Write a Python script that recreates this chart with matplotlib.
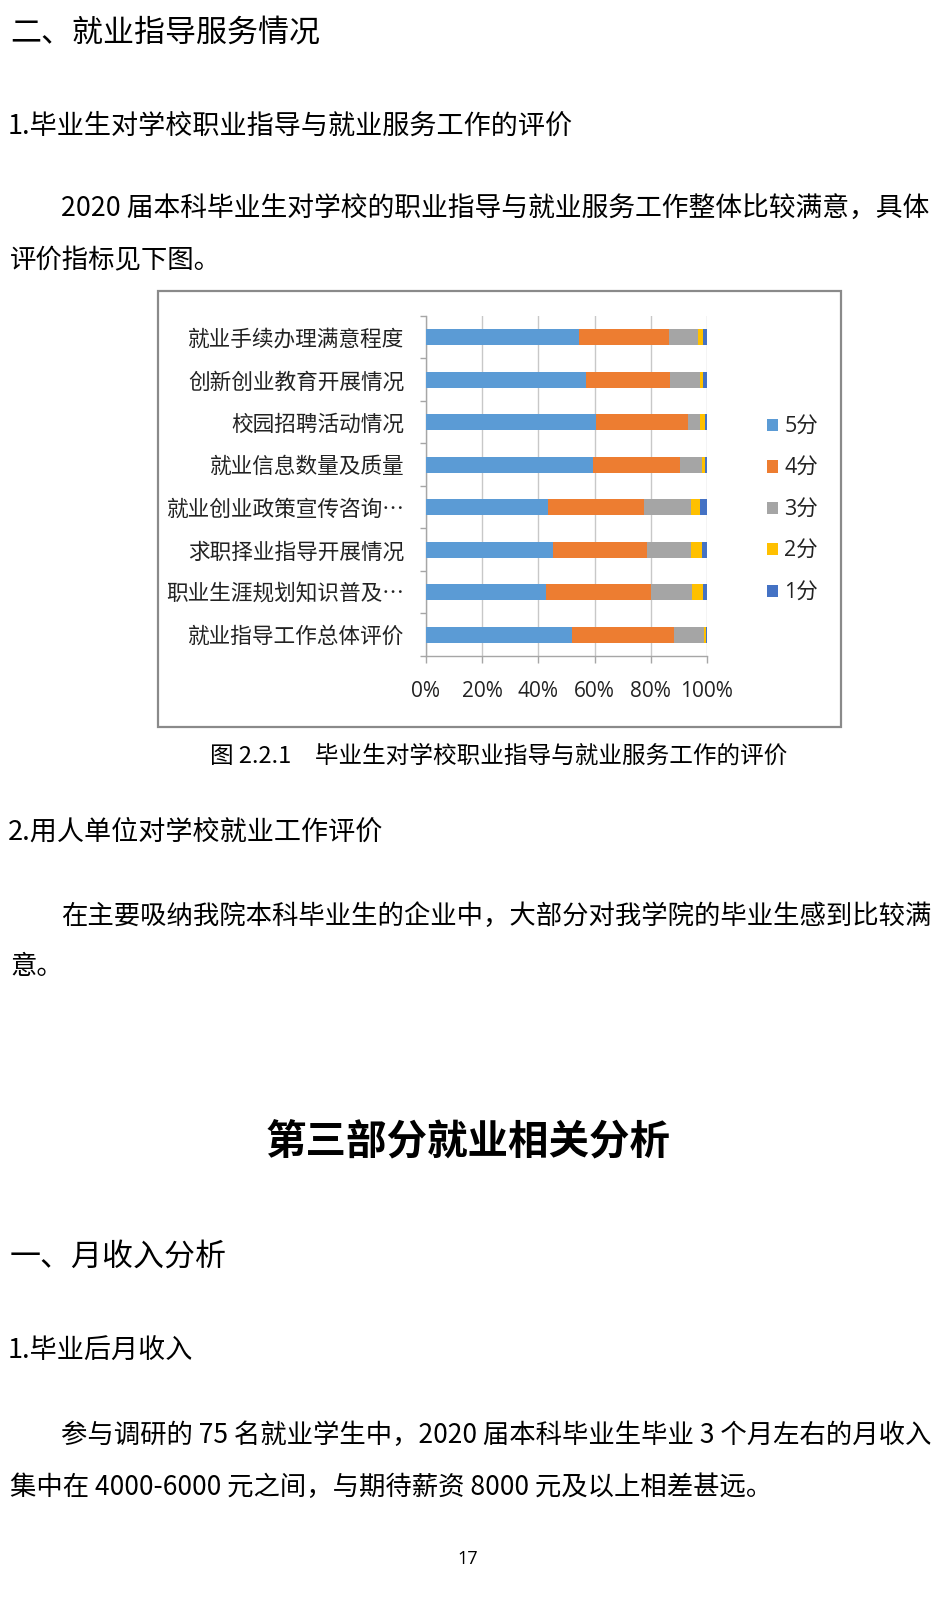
import matplotlib
matplotlib.use("Agg")
import matplotlib.pyplot as plt
from matplotlib.patches import Rectangle, Patch
import numpy as np

plt.rcParams['font.family'] = ['Noto Sans CJK SC', 'DejaVu Sans']

# ---------------- data ----------------
categories = ['就业手续办理满意程度', '创新创业教育开展情况', '校园招聘活动情况',
              '就业信息数量及质量', '就业创业政策宣传咨询…', '求职择业指导开展情况',
              '职业生涯规划知识普及…', '就业指导工作总体评价']
score5 = [54.4, 56.8, 60.5, 59.3, 43.3, 45.1, 42.8, 51.9]
score4 = [32.2, 30.1, 32.8, 31.2, 34.4, 33.6, 37.2, 36.5]
score3 = [10.3, 10.7, 4.2, 7.8, 16.6, 15.6, 14.8, 10.6]
score2 = [1.7, 1.0, 1.8, 1.1, 3.3, 3.9, 3.9, 0.5]
score1 = [1.4, 1.4, 0.7, 0.6, 2.4, 1.8, 1.3, 0.5]
series_names = ['5分', '4分', '3分', '2分', '1分']
series_colors = ['#5B9BD5', '#ED7D31', '#A5A5A5', '#FFC000', '#4472C4']
x_ticks = [0, 20, 40, 60, 80, 100]
x_ticklabels = ['0%', '20%', '40%', '60%', '80%', '100%']

W, H = 936, 1600
fig = plt.figure(figsize=(W / 100, H / 100), dpi=100)
fig.patch.set_facecolor('white')

def fx(px):
    return px / W

def fy(py):
    return 1 - py / H

CJK = ['Noto Sans CJK SC', 'DejaVu Sans']
LAT = ['Open Sans', 'Noto Sans CJK SC', 'DejaVu Sans']

def put(x, y, s, size, ha='left', weight='normal', family=CJK):
    fig.text(fx(x), fy(y + 5), s, fontsize=size, ha=ha, va='center',
             fontweight=weight, family=family, color='black')

# ---------------- page text ----------------
put(10, 28, '二、就业指导服务情况', 22.3)
put(8, 121, '1.毕业生对学校职业指导与就业服务工作的评价', 19.5)
put(61, 204, '2020 届本科毕业生对学校的职业指导与就业服务工作整体比较满意，具体', 19.3)
put(10, 256, '评价指标见下图。', 19)
put(499, 751, '图 2.2.1　毕业生对学校职业指导与就业服务工作的评价', 17, ha='center')
put(8, 827, '2.用人单位对学校就业工作评价', 19.5)
put(61, 911, '在主要吸纳我院本科毕业生的企业中，大部分对我学院的毕业生感到比较满', 19)
put(10, 962, '意。', 19)
put(468, 1138, '第三部分就业相关分析', 29.2, ha='center', weight='bold')
put(10, 1252, '一、月收入分析', 22.3)
put(8, 1346, '1.毕业后月收入', 19.5)
put(61, 1430, '参与调研的 75 名就业学生中，2020 届本科毕业生毕业 3 个月左右的月收入', 19)
put(10, 1482, '集中在 4000-6000 元之间，与期待薪资 8000 元及以上相差甚远。', 19)
put(468, 1554, '17', 13, ha='center', family=LAT)

# ---------------- chart frame ----------------
fig.patches.append(Rectangle((fx(158), fy(727)), fx(841) - fx(158), (727 - 291) / H,
                             transform=fig.transFigure, fill=False,
                             edgecolor='#8a8a8a', linewidth=1.6, zorder=0))

# ---------------- chart ----------------
ax = fig.add_axes([fx(426), fy(656), (707 - 426) / W, (656 - 316) / H])
n = len(categories)
ypos = np.arange(n) + 0.5
left = np.zeros(n)
for vals, name, col in zip([score5, score4, score3, score2, score1], series_names, series_colors):
    v = np.array(vals)
    ax.barh(ypos, v, left=left, height=0.38, color=col, label=name, zorder=3)
    left += v

ax.set_xlim(0, 100)
ax.set_ylim(n, 0)
ax.set_xticks(x_ticks)
ax.set_xticklabels(x_ticklabels, family=LAT, fontsize=15, color='#222222')
ax.set_yticks(ypos)
ax.set_yticklabels(categories, family=CJK, fontsize=15.6, color='#222222')
ax.set_yticks(np.arange(n + 1), minor=True)
ax.tick_params(axis='y', which='major', length=0, pad=15.5)
ax.tick_params(axis='y', which='minor', length=4, color='#a6a6a6', width=1, direction='out')
ax.tick_params(axis='x', which='major', length=5, color='#a6a6a6', width=1, direction='out', pad=13)
ax.grid(axis='x', color='#c8c8c8', linewidth=1, zorder=0)
ax.set_axisbelow(True)
for s in ['top', 'right']:
    ax.spines[s].set_visible(False)
for s in ['left', 'bottom']:
    ax.spines[s].set_color('#a6a6a6')
    ax.spines[s].set_linewidth(1)

handles = [Patch(facecolor=c, edgecolor='none') for c in series_colors]
leg = ax.legend(handles, series_names, loc='center left',
                bbox_to_anchor=(fx(767), fy(510)), bbox_transform=fig.transFigure,
                frameon=False, borderpad=0, borderaxespad=0,
                handlelength=0.5, handleheight=0.5, handletextpad=0.3,
                labelspacing=0.95, prop={'family': LAT, 'size': 15.5})
for t in leg.get_texts():
    t.set_color('#222222')

fig.savefig('out.png', dpi=100, facecolor='white')
